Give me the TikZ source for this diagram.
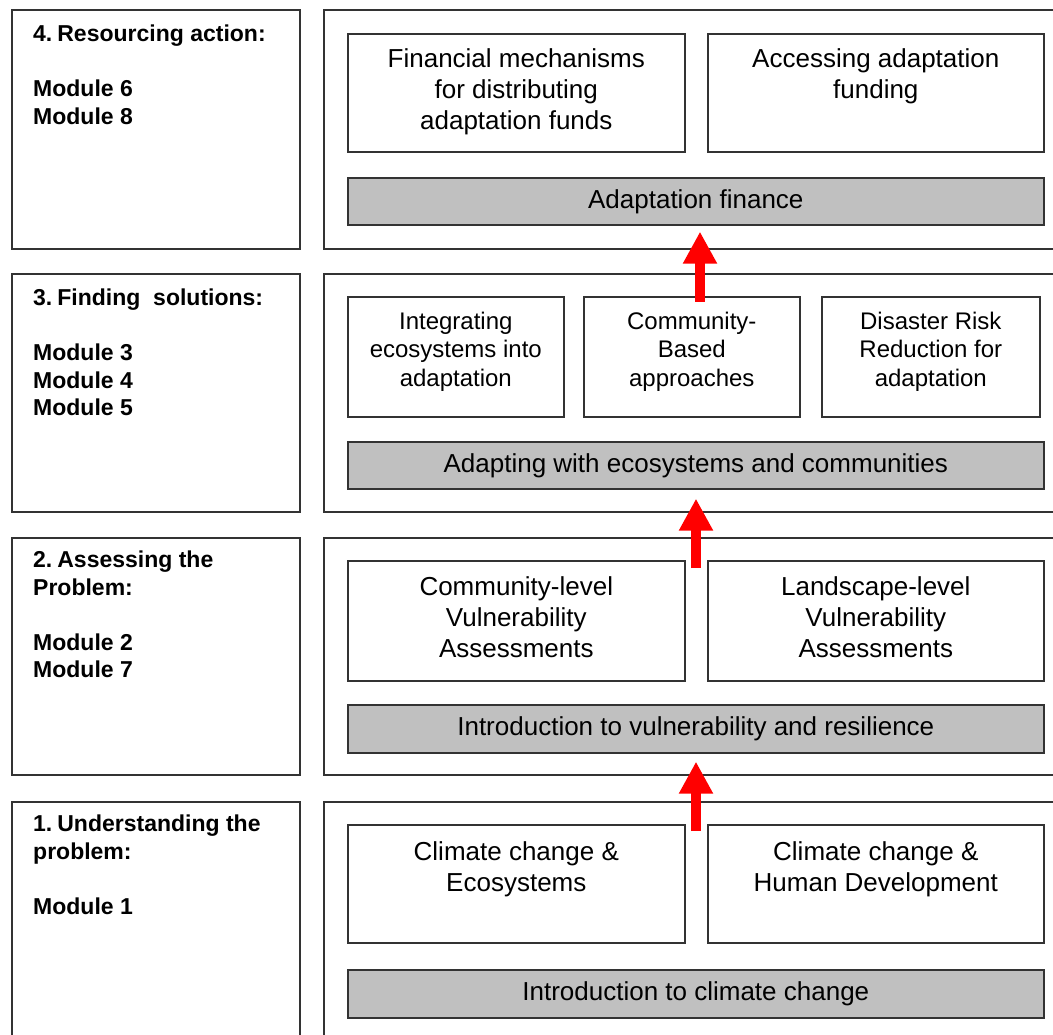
\documentclass[tikz,border=0pt]{standalone}
\usepackage{fontspec}
\setmainfont{Liberation Sans}
\usetikzlibrary{arrows.meta}
\definecolor{edge}{HTML}{333333}
\definecolor{bar}{HTML}{C0C0C0}
\tikzset{
  panel/.style={draw=edge,line width=1.8pt,anchor=north west,inner sep=0pt},
  inbox/.style={draw=edge,line width=1.6pt,fill=white,anchor=north west,inner sep=0pt},
  graybar/.style={draw=edge,line width=1.6pt,fill=bar,anchor=north west,inner sep=0pt},
  lefttxt/.style={anchor=north west,inner sep=0pt,align=left,font=\bfseries\fontsize{23}{27.5}\selectfont},
  boxtxt/.style={anchor=north,inner sep=0pt,align=center,font=\fontsize{26}{31}\selectfont},
  smalltxt/.style={anchor=north,inner sep=0pt,align=center,font=\fontsize{24}{28.5}\selectfont},
  bartxt/.style={inner sep=0pt,font=\fontsize{26}{31}\selectfont},
  redarrow/.style={draw=red,line width=10pt,-{Triangle[width=32pt,length=32pt]}}
}
\begin{document}
\begin{tikzpicture}[x=1pt,y=-1pt]
\useasboundingbox (0,0) rectangle (1053,1035);
\clip (0,0) rectangle (1053,1035);
% left boxes
\node[panel,minimum width=288pt,minimum height=239pt] (L4) at (11,9) {};
\node[panel,minimum width=288pt,minimum height=238pt] (L3) at (11,273) {};
\node[panel,minimum width=288pt,minimum height=237pt] (L2) at (11,537) {};
\node[panel,minimum width=288pt,minimum height=260pt] (L1) at (11,801) {};
% right panels
\node[panel,minimum width=760pt,minimum height=239pt] (R4) at (323,9) {};
\node[panel,minimum width=760pt,minimum height=238pt] (R3) at (323,273) {};
\node[panel,minimum width=760pt,minimum height=237pt] (R2) at (323,537) {};
\node[panel,minimum width=760pt,minimum height=260pt] (R1) at (323,801) {};
% left texts
\node[lefttxt] (t4) at (33,25) {4.\hspace{5pt}Resourcing action:\\[27.5pt]Module 6\\Module 8};
\node[lefttxt] (t3) at (33,289) {3.\hspace{5pt}Finding\ \ solutions:\\[27.5pt]Module 3\\Module 4\\Module 5};
\node[lefttxt] (t2) at (33,551) {2.\hspace{5pt}Assessing the\\Problem:\\[27.5pt]Module 2\\Module 7};
\node[lefttxt] (t1) at (33,815) {1.\hspace{5pt}Understanding the\\problem:\\[27.5pt]Module 1};
% row 4
\node[inbox,minimum width=337pt,minimum height=118pt] (b41) at (347,33) {};
\node[inbox,minimum width=336pt,minimum height=118pt] (b42) at (707,33) {};
\node[boxtxt] (x41) at ([yshift=-15.5pt]b41.north) {Financial mechanisms\\for distributing\\adaptation funds};
\node[boxtxt] (x42) at ([yshift=-15.5pt]b42.north) {Accessing adaptation\\funding};
\node[graybar,minimum width=696pt,minimum height=47pt] (g4) at (347,177) {};
\node[bartxt] (y4) at (g4.center) {Adaptation finance};
% row 3
\node[inbox,minimum width=216pt,minimum height=120pt] (b31) at (347,296) {};
\node[inbox,minimum width=216pt,minimum height=120pt] (b32) at (583,296) {};
\node[inbox,minimum width=218pt,minimum height=120pt] (b33) at (821,296) {};
\node[smalltxt] (x31) at ([yshift=-15.5pt]b31.north) {Integrating\\ecosystems into\\adaptation};
\node[smalltxt] (x32) at ([yshift=-15.5pt]b32.north) {Community-\\Based\\approaches};
\node[smalltxt] (x33) at ([yshift=-15.5pt]b33.north) {Disaster Risk\\Reduction for\\adaptation};
\node[graybar,minimum width=696pt,minimum height=47pt] (g3) at (347,441) {};
\node[bartxt] (y3) at (g3.center) {Adapting with ecosystems and communities};
% row 2
\node[inbox,minimum width=337pt,minimum height=120pt] (b21) at (347,560) {};
\node[inbox,minimum width=336pt,minimum height=120pt] (b22) at (707,560) {};
\node[boxtxt] (x21) at ([yshift=-16.5pt]b21.north) {Community-level\\Vulnerability\\Assessments};
\node[boxtxt] (x22) at ([yshift=-16.5pt]b22.north) {Landscape-level\\Vulnerability\\Assessments};
\node[graybar,minimum width=696pt,minimum height=48pt] (g2) at (347,704) {};
\node[bartxt] (y2) at (g2.center) {Introduction to vulnerability and resilience};
% row 1
\node[inbox,minimum width=337pt,minimum height=118pt] (b11) at (347,824) {};
\node[inbox,minimum width=336pt,minimum height=118pt] (b12) at (707,824) {};
\node[boxtxt] (x11) at ([yshift=-17.5pt]b11.north) {Climate change \&\\Ecosystems};
\node[boxtxt] (x12) at ([yshift=-17.5pt]b12.north) {Climate change \&\\Human Development};
\node[graybar,minimum width=696pt,minimum height=48pt] (g1) at (347,969) {};
\node[bartxt] (y1) at (g1.center) {Introduction to climate change};
% arrows
\coordinate (a1) at (700,302);
\coordinate (a2) at (696,568);
\coordinate (a3) at (696,831);
\draw[redarrow,shorten >=6pt] (a1) -- (a1 |- g4.south);
\draw[redarrow,shorten >=9pt] (a2) -- (a2 |- g3.south);
\draw[redarrow,shorten >=8pt] (a3) -- (a3 |- g2.south);
\end{tikzpicture}
\end{document}
